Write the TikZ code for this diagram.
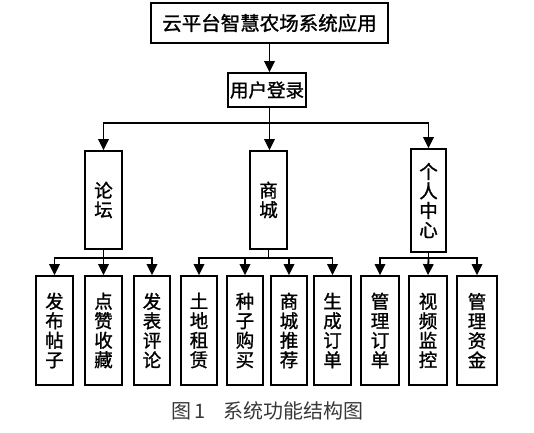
\documentclass[tikz,border=0pt]{standalone}
\usepackage{fontspec}
\newfontfamily\cjk{Noto Sans CJK SC}
\newfontfamily\cjkb[FakeBold=1.2]{Noto Sans CJK SC}
\usetikzlibrary{arrows.meta}
\tikzset{
  ln/.style={line width=1.8pt, draw=black},
  arr/.style={ln, -{Triangle[length=11pt,width=10.5pt]}},
  box/.style={draw=black, line width=1.8pt, fill=white, inner sep=0pt, align=center},
  hbox/.style={box, font=\cjkb\fontsize{19.5}{20}\selectfont},
  vbox/.style={box, font=\cjkb\fontsize{18.5}{19.5}\selectfont},
}
\begin{document}
\begin{tikzpicture}[x=1pt,y=-1pt]
\useasboundingbox[fill=white] (0,0) rectangle (534,432);
% level 0/1
\node[hbox, minimum width=237pt, minimum height=40pt] (top) at (269.5,23) {云平台智慧农场系统应用};
\node[hbox, minimum width=78pt, minimum height=34pt, font=\cjkb\fontsize{18.5}{19}\selectfont] (user) at (267,90) {用户登录};
% level 2
\node[vbox, minimum width=37pt, minimum height=98pt] (forum) at (103.5,200) {论\\坛};
\node[vbox, minimum width=37pt, minimum height=98pt] (mall) at (268.5,200) {商\\城};
\node[vbox, minimum width=35pt, minimum height=103pt] (me) at (428.5,200.5) {个\\人\\中\\心};
% level 3
\node[vbox, minimum width=37pt, minimum height=109pt] (a1) at (54.5,330.5) {发\\布\\帖\\子};
\node[vbox, minimum width=37pt, minimum height=109pt] (a2) at (103.5,330.5) {点\\赞\\收\\藏};
\node[vbox, minimum width=36pt, minimum height=109pt] (a3) at (152,330.5) {发\\表\\评\\论};
\node[vbox, minimum width=36pt, minimum height=109pt] (b1) at (199,330.5) {土\\地\\租\\赁};
\node[vbox, minimum width=36pt, minimum height=109pt] (b2) at (245,330.5) {种\\子\\购\\买};
\node[vbox, minimum width=36pt, minimum height=109pt] (b3) at (289,330.5) {商\\城\\推\\荐};
\node[vbox, minimum width=37pt, minimum height=109pt] (b4) at (332.5,330.5) {生\\成\\订\\单};
\node[vbox, minimum width=38pt, minimum height=109pt] (c1) at (380,330.5) {管\\理\\订\\单};
\node[vbox, minimum width=38pt, minimum height=109pt] (c2) at (428,330.5) {视\\频\\监\\控};
\node[vbox, minimum width=40pt, minimum height=109pt] (c3) at (477,330.5) {管\\理\\资\\金};
% junctions
\coordinate (j0) at (269.5,123);
\coordinate (jA) at (103.5,258);
\coordinate (jB) at (268.5,258);
\coordinate (jC) at (428.5,258);
% connectors
\draw[arr] (top.south) -- (top.south |- user.north);
\draw[ln] (top.south |- user.south) -- (j0);
\draw[arr] (j0) -| (forum.north);
\draw[arr] (j0) -- (mall.north -| j0);
\draw[arr] (j0) -| (me.north);
\draw[ln] (forum.south) -- (jA);
\draw[arr] (jA) -| (a1.north);
\draw[arr] (jA) -- (a2.north);
\draw[arr] (jA) -| (a3.north);
\draw[ln] (mall.south) -- (jB);
\draw[arr] (jB) -| (b1.north);
\draw[arr] (jB) -| (b2.north);
\draw[arr] (jB) -| (b3.north);
\draw[arr] (jB) -| (b4.north);
\draw[ln] (me.south) -- (jC);
\draw[arr] (jC) -| (c1.north);
\draw[arr] (jC) -- (c2.north);
\draw[arr] (jC) -| (c3.north);
% caption
\node[anchor=west, inner sep=0pt, text=black!78, font=\cjk\fontsize{20}{20}\selectfont] (cap) at (171,411) {图\,1\hspace{18pt}系统功能结构图};
\end{tikzpicture}
\end{document}
